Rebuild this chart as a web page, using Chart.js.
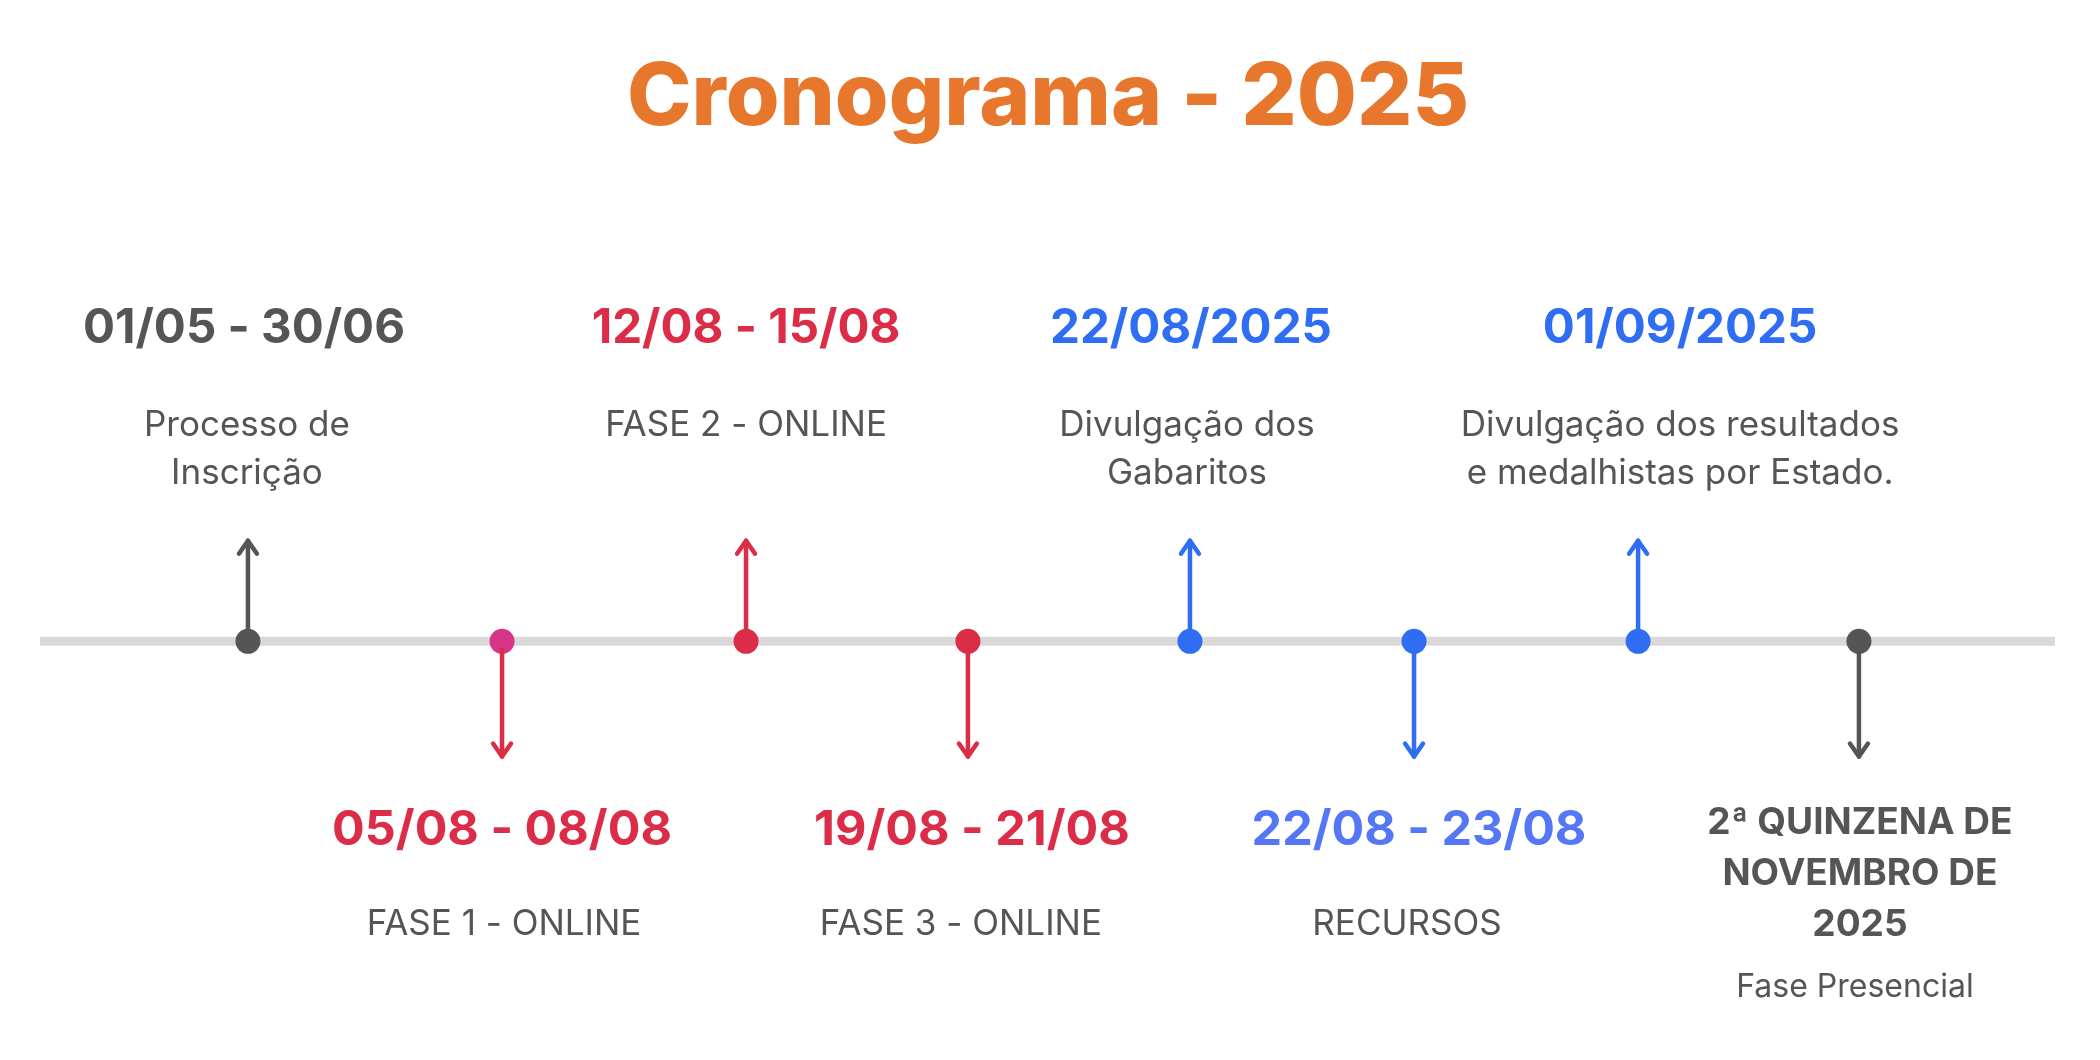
<!DOCTYPE html>
<html>
<head>
<meta charset="utf-8">
<script src="https://cdn.jsdelivr.net/npm/chart.js@4"></script>
<style>
  html, body { margin: 0; padding: 0; background: #ffffff; }
  #wrap { width: 2100px; height: 1060px; position: relative; }
</style>
</head>
<body>
<div id="wrap"><canvas id="c" width="2100" height="1060"></canvas></div>
<script>
// ---- data ----
const chartTitle = 'Cronograma - 2025';
const eventPositions = [10.32, 22.93, 35.04, 46.05, 57.07, 68.19, 79.31, 90.27]; // position along timeline (0-100)
const eventDates = ['01/05 - 30/06', '05/08 - 08/08', '12/08 - 15/08', '19/08 - 21/08', '22/08/2025', '22/08 - 23/08', '01/09/2025', ['2ª QUINZENA DE', 'NOVEMBRO DE', '2025']];
const eventDescriptions = [['Processo de', 'Inscrição'], ['FASE 1 - ONLINE'], ['FASE 2 - ONLINE'], ['FASE 3 - ONLINE'], ['Divulgação dos', 'Gabaritos'], ['RECURSOS'], ['Divulgação dos resultados', 'e medalhistas por Estado.'], ['Fase Presencial']];
const eventSide = ['up', 'down', 'up', 'down', 'up', 'down', 'up', 'down'];
const dotColors = ['#555555', '#D6368A', '#DC2D48', '#DC2D48', '#2F6EF3', '#2F6EF3', '#2F6EF3', '#555555'];
const arrowColors = ['#555555', '#DC2D48', '#DC2D48', '#DC2D48', '#2F6EF3', '#2F6EF3', '#2F6EF3', '#555555'];
const dateColors = ['#555555', '#DC2D48', '#DC2D48', '#DC2D48', '#2F6EF3', '#5577F6', '#2F6EF3', '#555555'];

// ---- layout (pixel units relative to the timeline) ----
const dateShift = [-4, 0, 0, 4, 1, 5, 42, 1];
const descShift = [-1, 2, 0, -7, -3, -7, 42, -4];
const FONT = 'Inter, "Open Sans", sans-serif';

const annotate = {
  id: 'annotate',
  afterDatasetsDraw(chart) {
    const ctx = chart.ctx;
    const xs = chart.scales.x, ys = chart.scales.y;
    ctx.save();
    // title
    ctx.textAlign = 'center';
    ctx.textBaseline = 'middle';
    ctx.fillStyle = '#E8772E';
    ctx.font = '800 87px ' + FONT;
    ctx.fillText(chartTitle, 1048, ys.getPixelForValue(556));

    eventPositions.forEach((p, i) => {
      const px = xs.getPixelForValue(p);
      const py = ys.getPixelForValue(0);
      const up = eventSide[i] === 'up';
      // arrow
      const tipY = ys.getPixelForValue(up ? 103 : -118);
      const startY = py + (up ? -6 : 8);
      ctx.strokeStyle = arrowColors[i];
      ctx.lineWidth = 4.5;
      ctx.lineCap = 'round';
      ctx.lineJoin = 'round';
      ctx.beginPath();
      ctx.moveTo(px, startY);
      ctx.lineTo(px, tipY);
      ctx.stroke();
      const d = up ? 1 : -1;
      ctx.beginPath();
      ctx.moveTo(px - 9, tipY + d * 13);
      ctx.lineTo(px, tipY);
      ctx.lineTo(px + 9, tipY + d * 13);
      ctx.stroke();

      // labels
      const dx = px + dateShift[i];
      const tx = px + descShift[i];
      ctx.textAlign = 'center';
      ctx.textBaseline = 'middle';
      const date = eventDates[i];
      const desc = eventDescriptions[i];
      if (up) {
        ctx.fillStyle = dateColors[i];
        ctx.font = '700 47.5px ' + FONT;
        ctx.fillText(date, dx, ys.getPixelForValue(320));
        ctx.fillStyle = '#555555';
        ctx.font = '400 35px ' + FONT;
        desc.forEach((t, k) => ctx.fillText(t, tx, ys.getPixelForValue(221 - k * 49)));
      } else if (Array.isArray(date)) {
        ctx.fillStyle = dateColors[i];
        ctx.font = '700 37px ' + FONT;
        date.forEach((t, k) => ctx.fillText(t, dx, ys.getPixelForValue(-186 - k * 52)));
        ctx.fillStyle = '#555555';
        ctx.font = '400 32px ' + FONT;
        desc.forEach((t, k) => ctx.fillText(t, tx, ys.getPixelForValue(-354 - k * 40)));
      } else {
        ctx.fillStyle = dateColors[i];
        ctx.font = '700 48.5px ' + FONT;
        ctx.fillText(date, dx, ys.getPixelForValue(-194));
        ctx.fillStyle = '#555555';
        ctx.font = '400 35px ' + FONT;
        desc.forEach((t, k) => ctx.fillText(t, tx, ys.getPixelForValue(-290 - k * 49)));
      }
    });
    ctx.restore();
  }
};

new Chart(document.getElementById('c'), {
  type: 'scatter',
  data: {
    datasets: [
      {
        type: 'scatter',
        data: eventPositions.map(p => ({ x: p, y: 0 })),
        pointRadius: 12.5,
        pointHoverRadius: 12.5,
        pointBackgroundColor: dotColors,
        pointBorderWidth: 0,
        order: 1
      },
      {
        type: 'line',
        data: [{ x: 0, y: 0 }, { x: 100, y: 0 }],
        borderColor: '#D9D9D9',
        borderWidth: 9,
        borderCapStyle: 'butt',
        pointRadius: 0,
        order: 2
      }
    ]
  },
  options: {
    responsive: false,
    animation: false,
    events: [],
    layout: { padding: { left: 40, right: 45, top: 0, bottom: 0 } },
    plugins: { legend: { display: false }, tooltip: { enabled: false }, title: { display: false } },
    scales: {
      x: { type: 'linear', min: 0, max: 100, display: false },
      y: { type: 'linear', min: -416, max: 644, display: false }
    }
  },
  plugins: [annotate]
});
</script>
</body>
</html>
